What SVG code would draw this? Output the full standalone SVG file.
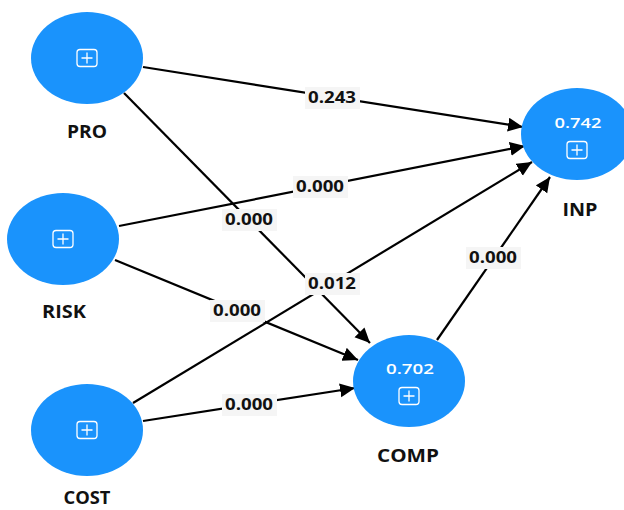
<svg xmlns="http://www.w3.org/2000/svg" width="624" height="510" viewBox="0 0 624 510">
<defs>
<style>
.node{fill:#1a93fc}
.ico{fill:none;stroke:#ffffff;stroke-width:1.3}
.name{font-family:"Open Sans","Noto Sans","DejaVu Sans",sans-serif;font-weight:bold;font-size:17px;fill:#111111;text-anchor:middle}
.val{font-family:"Open Sans","Noto Sans","DejaVu Sans",sans-serif;font-weight:600;font-size:15px;fill:#ffffff;text-anchor:middle}
.edge{stroke:#000000;stroke-width:2.2;fill:none;marker-end:url(#arr)}
.lbox{fill:#f5f5f5}
.ltxt{font-family:"Open Sans","Noto Sans","DejaVu Sans",sans-serif;font-weight:bold;font-size:16px;fill:#111111;text-anchor:middle}
</style>
<marker id="arr" markerUnits="userSpaceOnUse" markerWidth="16" markerHeight="16" viewBox="0 0 16 16" refX="15" refY="7" orient="auto">
<path d="M0,0 L15,7 L0,14 z" fill="#000000"/>
</marker>
<g id="icon">
<rect x="-10" y="-8.5" width="20" height="17" rx="3" class="ico"/>
<path d="M-5.5,0 H5.5 M0,-5.5 V5.5" class="ico"/>
</g>
</defs>
<rect width="624" height="510" fill="#ffffff"/>
<g id="connectors">
<line class="edge" x1="143" y1="67" x2="523" y2="127"/>
<line class="edge" x1="124" y1="93" x2="370" y2="343"/>
<line class="edge" x1="119" y1="226" x2="525" y2="146"/>
<line class="edge" x1="115" y1="260" x2="358" y2="360"/>
<line class="edge" x1="133" y1="403" x2="532" y2="162"/>
<line class="edge" x1="143" y1="421" x2="355" y2="388"/>
<line class="edge" x1="437" y1="340" x2="550" y2="177"/>
<g id="edge-labels">
<rect class="lbox" x="305" y="87" width="55" height="22"/>
<text class="ltxt" x="332" y="103" textLength="48" lengthAdjust="spacingAndGlyphs">0.243</text>
<rect class="lbox" x="222" y="209" width="55" height="22"/>
<text class="ltxt" x="249" y="225" textLength="48" lengthAdjust="spacingAndGlyphs">0.000</text>
<rect class="lbox" x="293" y="176" width="55" height="22"/>
<text class="ltxt" x="320" y="192" textLength="48" lengthAdjust="spacingAndGlyphs">0.000</text>
<rect class="lbox" x="210" y="300" width="55" height="22"/>
<text class="ltxt" x="237" y="316" textLength="48" lengthAdjust="spacingAndGlyphs">0.000</text>
<rect class="lbox" x="305" y="273" width="55" height="22"/>
<text class="ltxt" x="332" y="289" textLength="48" lengthAdjust="spacingAndGlyphs">0.012</text>
<rect class="lbox" x="222" y="394" width="55" height="22"/>
<text class="ltxt" x="249" y="410" textLength="48" lengthAdjust="spacingAndGlyphs">0.000</text>
<rect class="lbox" x="466" y="247" width="55" height="22"/>
<text class="ltxt" x="493" y="263" textLength="48" lengthAdjust="spacingAndGlyphs">0.000</text>
</g>
</g>
<g id="PRO">
<ellipse class="node" cx="87" cy="58" rx="56" ry="46"/>
<use href="#icon" x="87" y="58"/>
<text class="name" x="87" y="138" textLength="40" lengthAdjust="spacingAndGlyphs">PRO</text>
</g>
<g id="RISK">
<ellipse class="node" cx="63" cy="239" rx="56" ry="46"/>
<use href="#icon" x="63" y="239"/>
<text class="name" x="64" y="318" textLength="44" lengthAdjust="spacingAndGlyphs">RISK</text>
</g>
<g id="COST">
<ellipse class="node" cx="87" cy="430" rx="56" ry="46"/>
<use href="#icon" x="87" y="430"/>
<text class="name" x="87" y="504" textLength="47" lengthAdjust="spacingAndGlyphs">COST</text>
</g>
<g id="INP">
<ellipse class="node" cx="577" cy="134" rx="56" ry="46"/>
<text class="val" x="578" y="128" textLength="47" lengthAdjust="spacingAndGlyphs">0.742</text>
<use href="#icon" x="577" y="150"/>
<text class="name" x="580" y="216" textLength="35" lengthAdjust="spacingAndGlyphs">INP</text>
</g>
<g id="COMP">
<ellipse class="node" cx="409" cy="381" rx="56" ry="46"/>
<text class="val" x="410" y="374" textLength="48" lengthAdjust="spacingAndGlyphs">0.702</text>
<use href="#icon" x="409" y="396"/>
<text class="name" x="408" y="462" textLength="62" lengthAdjust="spacingAndGlyphs">COMP</text>
</g>
</svg>
